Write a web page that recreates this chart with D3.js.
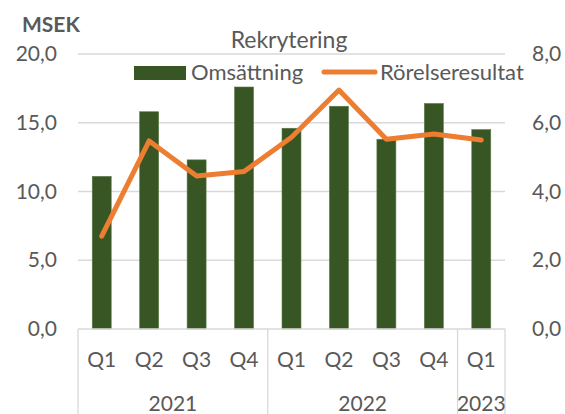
<!DOCTYPE html>
<html><head><meta charset="utf-8">
<script src="https://cdn.jsdelivr.net/npm/d3@7"></script>
<style>
html,body{margin:0;padding:0;background:#fff;}
svg{display:block;}
text{font-family:Lato,"Open Sans",sans-serif;fill:#595959;}
</style></head>
<body>
<svg id="chart" width="565" height="414"></svg>
<script>
const quarters = ["Q1","Q2","Q3","Q4","Q1","Q2","Q3","Q4","Q1"];
const years = ["2021","2021","2021","2021","2022","2022","2022","2022","2023"];
const omsattning = [11.1, 15.8, 12.3, 17.6, 14.6, 16.2, 13.8, 16.4, 14.5];
const rorelseresultat = [2.7, 5.47, 4.45, 4.58, 5.58, 6.95, 5.52, 5.67, 5.5];
const leftTicks = [0, 5, 10, 15, 20];
const rightTicks = [0, 2, 4, 6, 8];
const yearGroups = [{y:"2021", n:4},{y:"2022", n:4},{y:"2023", n:1}];

const svg = d3.select("#chart");
const m = {left:78, right:505, top:54, bottom:329};
const idx = quarters.map((_, i) => i);
const x = d3.scaleBand().domain(idx).range([m.left, m.right]).paddingInner(0.6).paddingOuter(0.3);
const yL = d3.scaleLinear().domain([0, 20]).range([m.bottom, m.top]);
const yR = d3.scaleLinear().domain([0, 8]).range([m.bottom, m.top]);
const fmt = d => d3.format(".1f")(d).replace(".", ",");
const fs = 21;

// gridlines
svg.append("g").selectAll("line").data(leftTicks.slice(1)).join("line")
  .attr("x1", m.left).attr("x2", m.right)
  .attr("y1", d => yL(d)).attr("y2", d => yL(d))
  .attr("stroke", "#d9d9d9").attr("stroke-width", 1.3);

// left axis labels
const axL = svg.append("g").attr("transform", `translate(${m.left},0)`)
  .call(d3.axisLeft(yL).tickValues(leftTicks).tickFormat(fmt).tickSize(0).tickPadding(21));
axL.select(".domain").remove();
axL.selectAll("text").style("font-size", fs + "px").attr("fill", "#595959").attr("font-family", "Lato");

const axR = svg.append("g").attr("transform", `translate(${m.right},0)`)
  .call(d3.axisRight(yR).tickValues(rightTicks).tickFormat(fmt).tickSize(0).tickPadding(27));
axR.select(".domain").remove();
axR.selectAll("text").style("font-size", fs + "px").attr("fill", "#595959").attr("font-family", "Lato");

// bars
svg.append("g").selectAll("rect").data(omsattning).join("rect")
  .attr("x", (d, i) => x(i)).attr("width", x.bandwidth())
  .attr("y", d => yL(d)).attr("height", d => yL(0) - yL(d))
  .attr("fill", "#375623").attr("stroke", "#5a7a45").attr("stroke-width", 0.6);

// category axis
const cg = svg.append("g").attr("stroke", "#d9d9d9").attr("stroke-width", 1.3);
cg.append("line").attr("x1", m.left).attr("x2", m.right).attr("y1", m.bottom).attr("y2", m.bottom);
let acc = 0;
const bounds = [0];
yearGroups.forEach(g => { acc += g.n; bounds.push(acc); });
cg.selectAll(".v").data(bounds).join("line")
  .attr("x1", d => m.left + d * (m.right - m.left) / quarters.length)
  .attr("x2", d => m.left + d * (m.right - m.left) / quarters.length)
  .attr("y1", m.bottom).attr("y2", 414);

svg.append("g").selectAll("text").data(quarters).join("text")
  .attr("x", (d, i) => x(i) + x.bandwidth() / 2).attr("y", 367)
  .attr("text-anchor", "middle").style("font-size", fs + "px").text(d => d);

const cw = (m.right - m.left) / quarters.length;
let s = 0;
yearGroups.forEach(g => {
  svg.append("text").attr("x", m.left + (s + g.n / 2) * cw).attr("y", 411)
    .attr("text-anchor", "middle").style("font-size", fs + "px").text(g.y);
  s += g.n;
});

// line
svg.append("path").datum(rorelseresultat)
  .attr("fill", "none").attr("stroke", "#ed7d31").attr("stroke-width", 5)
  .attr("stroke-linejoin", "round").attr("stroke-linecap", "round")
  .attr("d", d3.line().x((d, i) => x(i) + x.bandwidth() / 2).y(d => yR(d)));

// title
svg.append("text").attr("x", 289).attr("y", 48).attr("text-anchor", "middle")
  .style("font-size", "23px").text("Rekrytering");
svg.append("text").attr("x", 22).attr("y", 32)
  .style("font-size", "21px").style("font-weight", "bold").text("MSEK");

// legend
svg.append("rect").attr("x", 134).attr("y", 66).attr("width", 52).attr("height", 14).attr("fill", "#375623");
svg.append("text").attr("x", 191).attr("y", 80).style("font-size", "22px").text("Omsättning");
svg.append("line").attr("x1", 324).attr("x2", 375).attr("y1", 72).attr("y2", 72)
  .attr("stroke", "#ed7d31").attr("stroke-width", 5).attr("stroke-linecap", "round");
svg.append("text").attr("x", 380).attr("y", 80).style("font-size", "22px").text("Rörelseresultat");
</script>
</body></html>
